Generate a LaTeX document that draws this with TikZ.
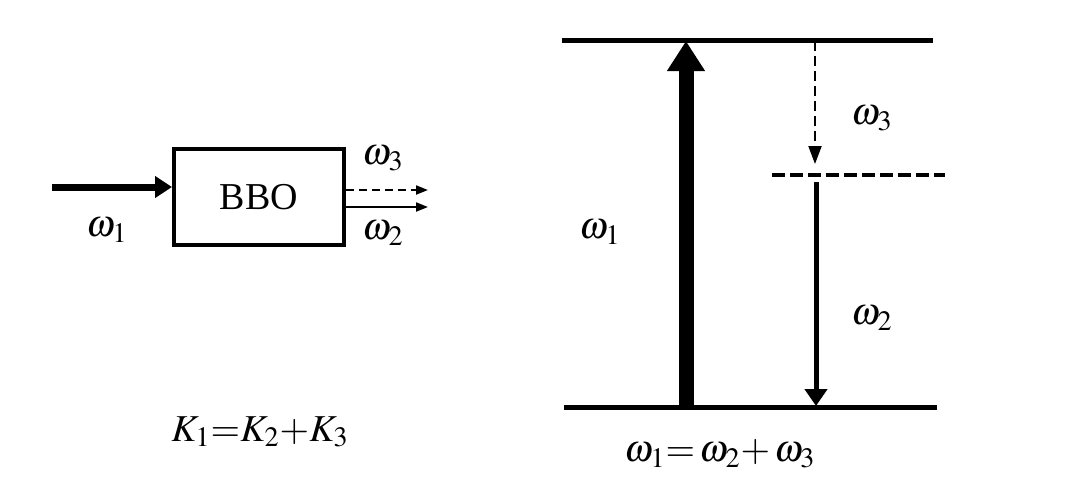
\documentclass[tikz,border=0pt]{standalone}
\usepackage{mathptmx}
\usepackage{fontspec}
\setmainfont{Liberation Serif}
\usetikzlibrary{arrows.meta}

\begin{document}
\begin{tikzpicture}[x=0.5pt,y=-0.5pt,
  every node/.style={font=\fontsize{19}{23}\selectfont, inner sep=0pt},
  level/.style={line width=2.5pt},
  beam/.style={line width=1pt, -{Triangle[length=6pt,width=4.5pt]}}]
\useasboundingbox (0,0) rectangle (1066,500);
% crystal
\node[draw, line width=2pt, minimum width=85pt, minimum height=48pt] (bbo) at (259,197) {BBO};
\coordinate (pump) at (52,187);
\coordinate (idler) at (428,190);
\coordinate (signal) at (428,207);
\draw[line width=3.5pt, -{Triangle[length=8.5pt,width=10.5pt]}] (pump) -- (bbo.west |- pump);
\draw[beam, dash pattern=on 4pt off 2.5pt] (bbo.east |- idler) -- (idler);
\draw[beam] (bbo.east |- signal) -- (signal);
\node (w1) at (107,230) {$\omega_1$};
\node (w3) at (383,158) {$\omega_3$};
\node (w2) at (383,233) {$\omega_2$};
\node (k) at (260,432) {$K_1{=}K_2{+}K_3$};
% energy levels
\coordinate (top-l) at (562,40); \coordinate (top-r) at (933,40);
\coordinate (bot-l) at (564,407); \coordinate (bot-r) at (937,407);
\coordinate (mid-l) at (772,175); \coordinate (mid-r) at (945,175);
\coordinate (up-a) at (686,407); \coordinate (up-b) at (686,41);
\coordinate (dn3-a) at (815,41); \coordinate (dn3-b) at (815,164);
\coordinate (dn2-a) at (816,182); \coordinate (dn2-b) at (816,406);
\draw[level] (top-l) -- (top-r);
\draw[level] (bot-l) -- (bot-r);
\draw[line width=2pt, dash pattern=on 6.5pt off 2.5pt] (mid-l) -- (mid-r);
\draw[line width=7.5pt, -{Triangle[length=15pt,width=18pt]}] (up-a) -- (up-b);
\draw[line width=1pt, dash pattern=on 5pt off 2.5pt, -{Triangle[length=9pt,width=6.5pt]}] (dn3-a) -- (dn3-b);
\draw[line width=2.5pt, -{Triangle[length=8.5pt,width=11pt]}] (dn2-a) -- (dn2-b);
\node (e1) at (600,232) {$\omega_1$};
\node (e3) at (872,118) {$\omega_3$};
\node (e2) at (872,318) {$\omega_2$};
\node (sum) at (720,454) {$\omega_1{=}\,\omega_2{+}\,\omega_3$};
\end{tikzpicture}
\end{document}
